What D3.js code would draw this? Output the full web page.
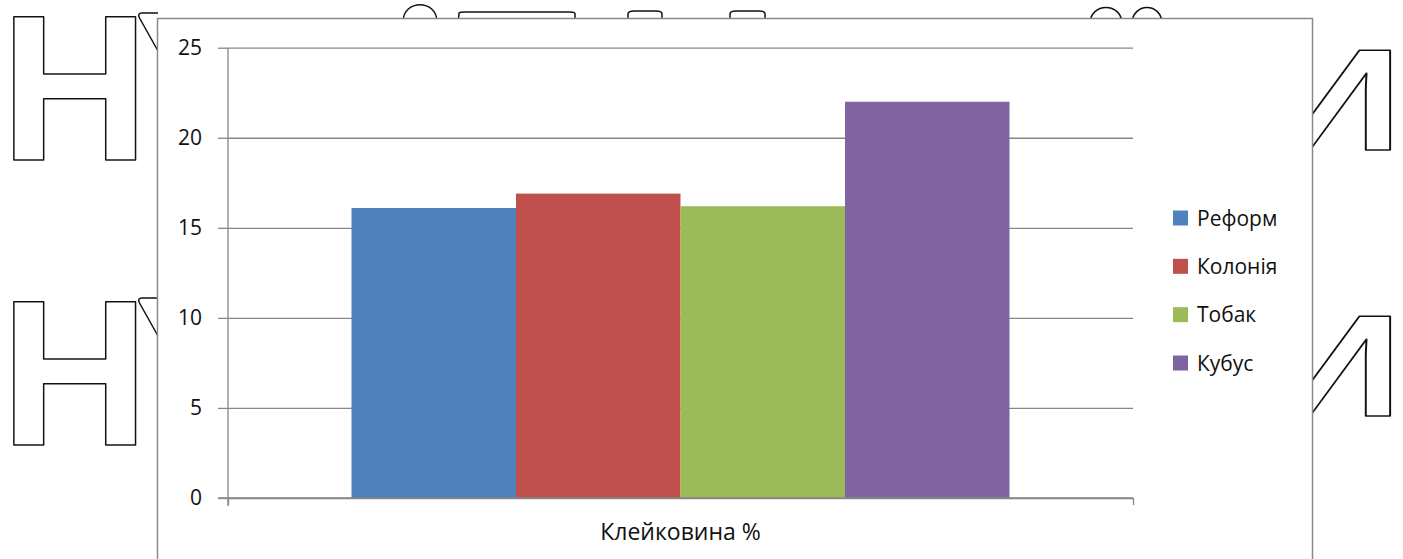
<!DOCTYPE html>
<html>
<head>
<meta charset="utf-8">
<script src="https://cdn.jsdelivr.net/npm/d3@7"></script>
<style>
  html, body { margin: 0; padding: 0; background: #fff; }
  svg { display: block; }
</style>
</head>
<body>
<svg id="chart" width="1403" height="559"></svg>
<script>
// Gluten content by wheat variety
const categories = ["Клейковина %"];
const seriesNames = ["Реформ", "Колонія", "Тобак", "Кубус"];
const seriesValues = [16.1, 16.9, 16.2, 22.0];
const seriesColors = ["#4F81BD", "#C0504D", "#9BBB59", "#8064A2"];
const yTicks = [0, 5, 10, 15, 20, 25];

const svg = d3.select("#chart");
const font = "'Open Sans', Lato, sans-serif";
const textColor = "#111";
const axisGray = "#868686";

// Outlined page lettering that sits behind the chart
const deco = svg.append("g")
  .attr("fill", "#fff")
  .attr("stroke", "#111")
  .attr("stroke-width", 1.5)
  .attr("stroke-linejoin", "round");
const decoText = deco.append("g")
  .attr("font-family", "'Liberation Sans', Arial, sans-serif")
  .attr("font-weight", "bold");
[160, 445].forEach(base => {
  decoText.append("text").attr("x", 0).attr("y", base).attr("font-size", 207).text("Н");
});
[150, 416].forEach(base => {
  decoText.append("text")
    .attr("transform", `translate(1403,${base}) scale(1.32,1)`)
    .attr("font-size", 144)
    .attr("text-anchor", "end").text("И");
});
// letter fragments peeking out above and beside the frame
const frag = deco.append("g").attr("fill", "none");
[0, 285].forEach(dy => {
  frag.append("path").attr("d", `M158,${13 + dy} L142,${13 + dy} Q137,${13 + dy} 139.5,${18 + dy} L158,${51 + dy}`);
});
frag.append("path").attr("d", "M403,22 C403,-1 437,-1 437,22");
frag.append("path").attr("d", "M458,24 L459,13 Q460,12 465,12 L570,12 Q575,12 575,14 L575,24");
[[628, 662], [730, 765]].forEach(([a, b]) => {
  frag.append("path").attr("d", `M${a},24 L${a},14 Q${a},11 ${a + 6},11 L${b - 6},11 Q${b},11 ${b},14 L${b},24`);
});
[[1090, 1122], [1132, 1162]].forEach(([a, b]) => {
  frag.append("path").attr("d", `M${a},24 C${a},2 ${b},2 ${b},24`);
});

// Chart area frame
svg.append("rect")
  .attr("x", 157.5).attr("y", 18.5)
  .attr("width", 1155).attr("height", 600)
  .attr("fill", "#fff")
  .attr("stroke", "#8a8a8a")
  .attr("stroke-width", 1.5);

const plot = { left: 228, right: 1133, top: 47.7, bottom: 498 };

const y = d3.scaleLinear().domain([0, 25]).range([plot.bottom, plot.top]);
const x0 = d3.scaleBand().domain(categories)
  .range([plot.left, plot.right]).paddingInner(0).paddingOuter(0.1877);
const x1 = d3.scaleBand().domain(seriesNames)
  .range([0, x0.bandwidth()]).padding(0);

// Horizontal gridlines, left ticks and value labels
const yAxis = d3.axisLeft(y)
  .tickValues(yTicks)
  .tickSize(-(plot.right - plot.left))
  .tickSizeOuter(0)
  .tickPadding(26)
  .tickFormat(d3.format("d"));
const gy = svg.append("g")
  .attr("transform", `translate(${plot.left},0)`)
  .call(yAxis);
gy.select(".domain").remove();
gy.selectAll(".tick line").attr("stroke", axisGray).attr("stroke-width", 1.3);
gy.selectAll(".tick").append("line")
  .attr("x1", -10).attr("x2", 0)
  .attr("stroke", axisGray).attr("stroke-width", 1.3);
gy.selectAll(".tick text")
  .attr("font-family", font).attr("font-size", 21)
  .attr("fill", textColor);

// Bars
svg.append("g").selectAll("g")
  .data(categories)
  .join("g")
  .attr("transform", d => `translate(${x0(d)},0)`)
  .selectAll("rect")
  .data(() => seriesNames.map((name, i) => ({ name, value: seriesValues[i], color: seriesColors[i] })))
  .join("rect")
  .attr("x", d => x1(d.name))
  .attr("y", d => y(d.value))
  .attr("width", x1.bandwidth())
  .attr("height", d => y(0) - y(d.value))
  .attr("fill", d => d.color);

// Vertical axis line
svg.append("line")
  .attr("x1", plot.left).attr("x2", plot.left)
  .attr("y1", plot.top).attr("y2", plot.bottom + 8)
  .attr("stroke", axisGray).attr("stroke-width", 1.3);

// Category axis
const xEdge = d3.scaleLinear().domain([0, 1]).range([plot.left, plot.right]);
const gx = svg.append("g")
  .attr("transform", `translate(0,${plot.bottom})`)
  .call(d3.axisBottom(xEdge).tickValues([0, 1]).tickSize(7).tickFormat(""));
gx.select(".domain").remove();
gx.selectAll(".tick line").attr("stroke", axisGray).attr("stroke-width", 1.3);
gx.append("line").attr("x1", plot.left - 10).attr("x2", plot.right)
  .attr("stroke", axisGray).attr("stroke-width", 1.3);

svg.append("g").selectAll("text")
  .data(categories)
  .join("text")
  .attr("x", d => x0(d) + x0.bandwidth() / 2)
  .attr("y", 540)
  .attr("text-anchor", "middle")
  .attr("font-family", font).attr("font-size", 23)
  .attr("fill", textColor)
  .text(d => d);

// Legend
const legend = svg.append("g").attr("transform", "translate(1173,0)");
const rowY = d3.scalePoint().domain(seriesNames).range([218, 363]);
const items = legend.selectAll("g")
  .data(seriesNames)
  .join("g")
  .attr("transform", d => `translate(0,${rowY(d)})`);
items.append("rect")
  .attr("x", 0).attr("y", -7.5)
  .attr("width", 15).attr("height", 15)
  .attr("fill", (d, i) => seriesColors[i]);
items.append("text")
  .attr("x", 24).attr("y", 0).attr("dy", "0.36em")
  .attr("font-family", font).attr("font-size", 21)
  .attr("fill", textColor)
  .text(d => d);
</script>
</body>
</html>
